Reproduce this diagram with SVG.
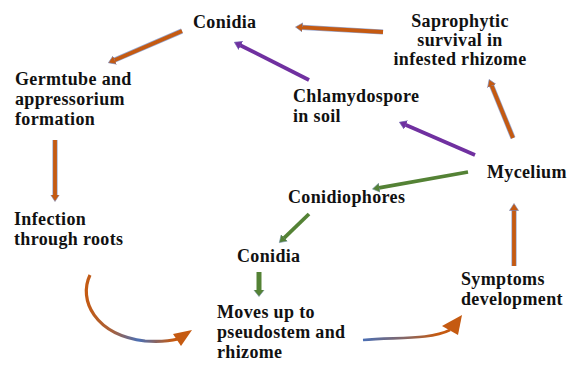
<svg xmlns="http://www.w3.org/2000/svg" width="567" height="366" viewBox="0 0 567 366">
<style>
.t{font-family:"Liberation Serif","Times New Roman",serif;font-weight:bold;font-size:18px;letter-spacing:0.35px;fill:#111}
.m{text-anchor:middle}
.ol{stroke:#7387bd;stroke-width:5.2;stroke-opacity:0.75;fill:none}
.or{stroke:#C55A11;stroke-width:3.8;fill:none}
.pu{stroke:#7030A0;stroke-width:3.8;fill:none}
.gr{stroke:#548235;stroke-width:3.8;fill:none}
</style>
<defs>
<marker id="hO" markerUnits="userSpaceOnUse" viewBox="0 -5 8 10" markerWidth="8" markerHeight="10" refX="0.5" refY="0" orient="auto"><path d="M0,-4.5 L7,0 L0,4.5 Z" fill="#C55A11" stroke="#7387bd" stroke-width="0.6"/></marker>
<marker id="hP" markerUnits="userSpaceOnUse" viewBox="0 -5 8 10" markerWidth="8" markerHeight="10" refX="0.5" refY="0" orient="auto"><path d="M0,-4.5 L7,0 L0,4.5 Z" fill="#7030A0" stroke="#6a5fb0" stroke-width="0.6"/></marker>
<marker id="hG" markerUnits="userSpaceOnUse" viewBox="0 -5 8 10" markerWidth="8" markerHeight="10" refX="0.5" refY="0" orient="auto"><path d="M0,-4.5 L7,0 L0,4.5 Z" fill="#548235" stroke="#6f8fa0" stroke-width="0.6"/></marker>
<marker id="hG2" markerUnits="userSpaceOnUse" viewBox="0 -6 8 12" markerWidth="8" markerHeight="12" refX="0.5" refY="0" orient="auto"><path d="M0,-5.5 L7,0 L0,5.5 Z" fill="#548235" stroke="#6f8fa0" stroke-width="0.6"/></marker>
<linearGradient id="g10" gradientUnits="userSpaceOnUse" x1="85" y1="0" x2="192" y2="0">
<stop offset="0" stop-color="#C55A11"/><stop offset="0.25" stop-color="#a8603a"/><stop offset="0.5" stop-color="#4a6fb5"/><stop offset="0.82" stop-color="#C55A11"/></linearGradient>
<linearGradient id="g11" gradientUnits="userSpaceOnUse" x1="363" y1="0" x2="462" y2="0">
<stop offset="0" stop-color="#4a6fb5"/><stop offset="0.45" stop-color="#8a6660"/><stop offset="0.75" stop-color="#C55A11"/></linearGradient>
</defs>

<g id="connectors">
<line class="ol" x1="182" y1="31" x2="114.4" y2="60.2"/>
<line class="or" x1="182" y1="31" x2="114.4" y2="60.2" marker-end="url(#hO)"/>
<line class="ol" x1="383" y1="32" x2="302" y2="27.4"/>
<line class="or" x1="383" y1="32" x2="302" y2="27.4" marker-end="url(#hO)"/>
<line class="pu" x1="309" y1="80" x2="240.2" y2="45.2" marker-end="url(#hP)"/>
<line class="pu" x1="475" y1="155" x2="405.4" y2="124.8" marker-end="url(#hP)"/>
<line class="ol" x1="513" y1="138" x2="491.6" y2="85.5"/>
<line class="or" x1="513" y1="138" x2="491.6" y2="85.5" marker-end="url(#hO)"/>
<line class="gr" x1="468" y1="172" x2="378.9" y2="187.8" marker-end="url(#hG)"/>
<line class="gr" x1="309" y1="214" x2="284" y2="238.1" marker-end="url(#hG)"/>
<line class="gr" style="stroke-width:5" x1="259" y1="272" x2="259" y2="290" marker-end="url(#hG2)"/>
<line class="ol" x1="55" y1="140" x2="55" y2="195"/>
<line class="or" x1="55" y1="140" x2="55" y2="195" marker-end="url(#hO)"/>
<line class="ol" x1="514" y1="266" x2="514" y2="210"/>
<line class="or" x1="514" y1="266" x2="514" y2="210" marker-end="url(#hO)"/>
<path d="M90,275 C78,300 95,335 145,341 C160,342 170,341 178,339" fill="none" stroke="url(#g10)" stroke-width="3.2"/>
<polygon points="192,330 173,334 181,346" fill="#C55A11"/>
<path d="M363,340 C395,337 430,340 450,330" fill="none" stroke="url(#g11)" stroke-width="2.6"/>
<polygon points="462,315 442,326 458,335" fill="#C55A11"/>
</g>

<g id="conidia-top"><text class="t" x="193" y="28">Conidia</text></g>
<g id="saprophytic"><text class="t m" x="460" y="27">Saprophytic</text><text class="t m" x="460" y="46">survival in</text><text class="t m" x="460" y="65">infested rhizome</text></g>
<g id="germtube"><text class="t" x="15" y="85">Germtube and</text><text class="t" x="15" y="105">appressorium</text><text class="t" x="15" y="125">formation</text></g>
<g id="chlamydospore"><text class="t" x="293" y="102">Chlamydospore</text><text class="t" x="293" y="122">in soil</text></g>
<g id="mycelium"><text class="t" x="487" y="178">Mycelium</text></g>
<g id="conidiophores"><text class="t" x="288" y="203">Conidiophores</text></g>
<g id="conidia-mid"><text class="t" x="237" y="262">Conidia</text></g>
<g id="infection"><text class="t" x="14" y="225">Infection</text><text class="t" x="14" y="245">through roots</text></g>
<g id="moves-up"><text class="t" x="217" y="318">Moves up to</text><text class="t" x="217" y="338">pseudostem and</text><text class="t" x="217" y="358">rhizome</text></g>
<g id="symptoms"><text class="t" x="461" y="285">Symptoms</text><text class="t" x="461" y="305">development</text></g>
</svg>
